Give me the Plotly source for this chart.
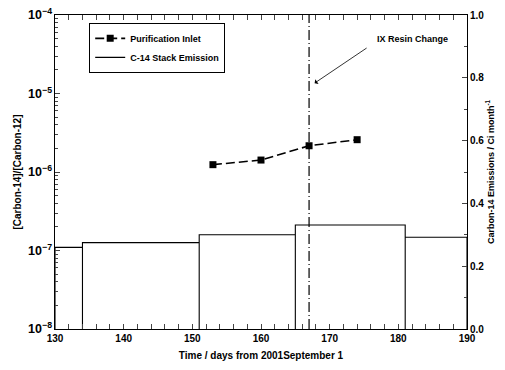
import plotly.graph_objects as go

# Purification inlet [C-14]/[C-12] ratio
inlet_days = [153, 160, 167, 174]
inlet_ratio = [1.24e-6, 1.42e-6, 2.16e-6, 2.58e-6]

# C-14 stack emission (Ci/month), monthly periods
period_start = [130, 134, 151, 165, 181]
period_end = [134, 151, 165, 181, 190]
emission = [0.26, 0.275, 0.30, 0.331, 0.292]

resin_change_day = 167

xticks = [130, 140, 150, 160, 170, 180, 190]

# step outline built from period data
sx, sy = [], []
for s, e, v in zip(period_start, period_end, emission):
    sx += [s, s, e, e]
    sy += [0, v, v, 0]

FONT = "Liberation Sans"
fig = go.Figure()

fig.add_trace(go.Scatter(
    x=inlet_days, y=inlet_ratio, name="Purification Inlet",
    mode="lines+markers",
    line=dict(color="black", width=1.6, dash="9px,4px"),
    marker=dict(symbol="square", size=7, color="black"),
    yaxis="y",
))
fig.add_trace(go.Scatter(
    x=sx, y=sy, name="C-14 Stack Emission", mode="lines",
    line=dict(color="black", width=1.1),
    yaxis="y2",
))

fig.add_shape(type="line", x0=resin_change_day, x1=resin_change_day,
              xref="x", yref="paper", y0=0, y1=1,
              line=dict(color="black", width=1.2, dash="10px,3px,1px,3px"))

fig.add_annotation(x=182, y=0.925, xref="x", yref="y2", text="IX Resin Change",
                   showarrow=False, font=dict(family=FONT, size=9, color="black", weight="bold"))
fig.add_annotation(x=167.8, y=0.783, xref="x", yref="y2", ax=175.6, ay=0.898,
                   axref="x", ayref="y2", text="", showarrow=True,
                   arrowhead=1, arrowsize=1.2, arrowwidth=0.8, arrowcolor="black", standoff=0)

tickfont = dict(family=FONT, size=10, color="black", weight="bold")
fig.update_layout(
    width=505, height=370,
    margin=dict(l=47, r=46, t=7, b=49, autoexpand=False),
    paper_bgcolor="white", plot_bgcolor="white",
    font=dict(family=FONT, color="black"),
    xaxis=dict(
        range=[130, 190], tickvals=xticks, ticks="inside", ticklen=5,
        showline=True, linecolor="black", linewidth=1, mirror="allticks",
        showgrid=False, zeroline=False, tickfont=tickfont, automargin=False,
        minor=dict(dtick=2, ticks="inside", ticklen=3, showgrid=False),
        title=dict(text="Time / days from 2001September 1",
                   font=dict(family=FONT, size=10, color="black", weight="bold"), standoff=8),
    ),
    yaxis=dict(
        type="log", range=[-8.00001, -3.99999], dtick=1, tick0=0, exponentformat="power",
        ticks="inside", ticklen=5, showline=True, linecolor="black", linewidth=1,
        showgrid=False, zeroline=False, tickfont=tickfont, automargin=False,
        ticklabeloverflow="allow",
        minor=dict(ticks="inside", ticklen=3, showgrid=False),
        title=dict(text="[Carbon-14]/[Carbon-12]",
                   font=dict(family=FONT, size=10, color="black", weight="bold"), standoff=4),
    ),
    yaxis2=dict(
        overlaying="y", side="right", range=[0, 1], dtick=0.2, tickformat=".1f",
        ticks="inside", ticklen=5, showline=True, linecolor="black", linewidth=1,
        showgrid=False, zeroline=False, tickfont=tickfont, automargin=False,
        minor=dict(dtick=0.1, ticks="inside", ticklen=3, showgrid=False),
        title=dict(text="Carbon-14 Emissions / Ci month<sup>-1</sup>",
                   font=dict(family=FONT, size=9, color="black", weight="bold"), standoff=2),
    ),
    legend=dict(
        x=0.083, y=0.975, xanchor="left", yanchor="top",
        bgcolor="white", bordercolor="black", borderwidth=1,
        font=dict(family=FONT, size=9, color="black", weight="bold"),
        itemwidth=30, tracegroupgap=0,
    ),
    showlegend=True,
)

fig.write_html("out.html")
